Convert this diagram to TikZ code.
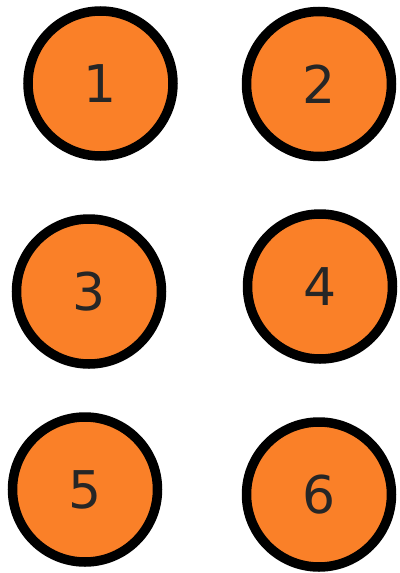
\documentclass[tikz,border=0pt]{standalone}
\usepackage{fontspec}
\setmainfont{DejaVu Sans}
\usepackage{xcolor}
\usetikzlibrary{positioning}

\definecolor{discorange}{RGB}{250,128,40}

\tikzset{
  disc/.style={circle, draw=black, fill=discorange, line width=9.5pt,
    minimum size=145pt, inner sep=0pt,
    font=\fontsize{52}{52}\selectfont, text=black!85}
}

\begin{document}
\begin{tikzpicture}[x=1pt, y=-1pt]
  \useasboundingbox (0,0) rectangle (399,573);

  % Top row
  \node[disc] (d1) at (100.5,83.5) {1};
  \node[disc] (d2) at (319,84)     {2};

  % Middle row
  \node[disc] (d3) at (89,291.5)   {3};
  \node[disc] (d4) at (320,286.5)  {4};

  % Bottom row
  \node[disc] (d5) at (85,489.5)   {5};
  \node[disc] (d6) at (319,494.5)  {6};

\end{tikzpicture}
\end{document}
